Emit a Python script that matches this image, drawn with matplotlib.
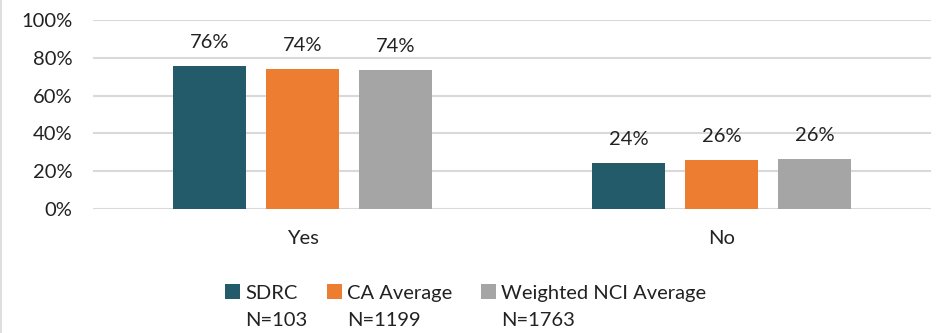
import numpy as np
import matplotlib.pyplot as plt
from matplotlib.lines import Line2D

plt.rcParams['font.family'] = ['Lato', 'DejaVu Sans']

# data
categories = ['Yes', 'No']
series_names = ['SDRC', 'CA Average', 'Weighted NCI Average']
series_n = ['N=103', 'N=1199', 'N=1763']
sdrc = [75.7, 24.3]
ca_avg = [74.1, 25.9]
nci_avg = [73.5, 26.5]
colors = ['#235b6b', '#ed7d31', '#a5a5a5']

FS = 14.5
TXT = '#222222'

fig = plt.figure(figsize=(9.39, 3.33), dpi=100)
ax = fig.add_axes([0.099, 0.3724, 0.8925, 0.5676])

x = np.arange(len(categories))
width = 0.175
offset = 0.222

for i, (vals, name, c) in enumerate(zip([sdrc, ca_avg, nci_avg], series_names, colors)):
    bars = ax.bar(x + (i - 1) * offset, vals, width, color=c, label=name, zorder=3)
    for b, v in zip(bars, vals):
        ax.annotate(f"{round(v)}%", (b.get_x() + b.get_width() / 2, v),
                    xytext=(0, 13), textcoords='offset points',
                    ha='center', va='baseline', fontsize=FS, color=TXT)

ax.set_xlim(-0.5, 1.5)
ax.set_ylim(0, 100)
ax.set_yticks(range(0, 101, 20))
ax.set_yticklabels([f"{t}%" for t in range(0, 101, 20)])
ax.set_xticks(x)
ax.set_xticklabels(categories)
ax.tick_params(axis='both', length=0, labelsize=FS, colors=TXT)
ax.tick_params(axis='y', pad=15)
ax.tick_params(axis='x', pad=15)
ax.grid(axis='y', color='#d9d9d9', linewidth=1.5, zorder=0)
for s in ax.spines.values():
    s.set_visible(False)

# legend: series names on first row, sample sizes underneath
leg = fig.legend(loc='center left', bbox_to_anchor=(225 / 939, 1 - 293 / 333), ncol=3,
                 frameon=False, fontsize=FS, handlelength=0.75, handleheight=0.7,
                 handletextpad=0.25, columnspacing=1.45, borderpad=0, borderaxespad=0)
for t in leg.get_texts():
    t.set_color(TXT)

fig.canvas.draw()
for t, n in zip(leg.get_texts(), series_n):
    bb = t.get_window_extent()
    fig.text(bb.x0, bb.y0 + bb.height / 2 - 27, n, fontsize=FS, color=TXT,
             ha='left', va='center', transform=None)

# left border of the chart frame
fig.add_artist(Line2D([0.0015, 0.0015], [0, 1], color='#d9d9d9', linewidth=1.2))

fig.savefig('out.png', dpi=100)
